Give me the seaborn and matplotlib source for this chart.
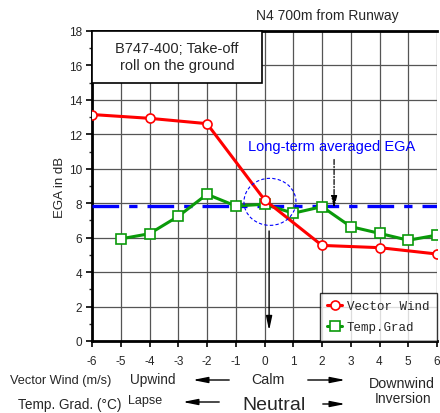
import numpy as np
import pandas as pd
import matplotlib
matplotlib.use("Agg")
import matplotlib.pyplot as plt
import seaborn as sns
from matplotlib.patches import Ellipse, Rectangle, FancyArrowPatch

# ---- data ----
wind_x = [-6, -4, -2, 0, 2, 4, 6]
wind_ega = [13.15, 12.93, 12.62, 8.2, 5.55, 5.42, 5.05]
temp_x = [-5, -4, -3, -2, -1, 0, 1, 2, 3, 4, 5, 6]
temp_ega = [5.93, 6.23, 7.24, 8.52, 7.84, 7.94, 7.42, 7.8, 6.64, 6.25, 5.85, 6.15]
avg_ega = 7.83
x_ticks = list(range(-6, 7))
y_ticks = list(range(0, 19, 2))

sns.set_theme(style="white")
plt.rcParams['font.family'] = ['Liberation Sans', 'DejaVu Sans']
plt.rcParams['axes.unicode_minus'] = False

W, H = 440, 414
fig = plt.figure(figsize=(W / 100, H / 100), dpi=100)
ax = fig.add_axes([92 / W, 1 - 342 / H, 345 / W, 310 / H])

df_w = pd.DataFrame({"x": wind_x, "y": wind_ega})
df_t = pd.DataFrame({"x": temp_x, "y": temp_ega})

sns.lineplot(data=df_w, x="x", y="y", ax=ax, color="#ff0000", lw=2.2,
             marker="o", markersize=6.5, markerfacecolor="white",
             markeredgecolor="#ff0000", markeredgewidth=1.2,
             label="Vector Wind", zorder=5)
sns.lineplot(data=df_t, x="x", y="y", ax=ax, color="#0a9a0a", lw=2.2,
             marker="s", markersize=6.5, markerfacecolor="white",
             markeredgecolor="#0a9a0a", markeredgewidth=1.2,
             label="Temp.Grad", zorder=4)

ax.axhline(avg_ega, color="#0000ff", lw=2.4, ls=(0, (8, 3, 2.5, 3)), zorder=3)

ax.set_xlim(-6, 6)
ax.set_ylim(0, 18)
ax.set_xticks(x_ticks)
ax.set_yticks(y_ticks)
ax.set_yticks(range(1, 18, 2), minor=True)
ax.set_xlabel("")
ax.set_ylabel("EGA in dB", fontsize=9.5, labelpad=2)
ax.tick_params(axis="both", which="major", direction="out", length=4, width=1.2,
               labelsize=8.5, color="black", pad=3, bottom=True, left=True)
ax.tick_params(axis="x", which="major", pad=6)
ax.tick_params(axis="y", which="minor", direction="out", length=2.5, width=1, left=True)

ax.grid(True, which="major", color="#555555", lw=0.9, zorder=0)
for side in ["left", "bottom", "top"]:
    ax.spines[side].set_linewidth(2.0)
    ax.spines[side].set_color("black")
ax.spines["right"].set_visible(False)

# text box
ax.add_patch(Rectangle((-6, 14.97), 5.91, 3.03, facecolor="white",
                       edgecolor="black", lw=1.2, zorder=6, clip_on=False))
ax.text(-3.05, 16.5, "B747-400; Take-off\nroll on the ground", ha="center",
        va="center", fontsize=10.5, zorder=7, linespacing=1.25)

# annotations
ax.text(2.35, 11.35, "Long-term averaged EGA", color="#0000ff", ha="center",
        va="center", fontsize=10.5, zorder=7)
ax.add_patch(Ellipse((0.19, 8.08), 1.81, 2.73, fill=False, edgecolor="#0000ff",
                     ls=(0, (3, 2)), lw=0.8, zorder=6))
ax.annotate("", xy=(0.16, 0.45), xytext=(0.16, 6.55),
            arrowprops=dict(arrowstyle="-|>,head_length=0.7,head_width=0.15",
                            color="black", lw=1.0), zorder=7)
ax.annotate("", xy=(2.42, 7.55), xytext=(2.42, 10.7),
            arrowprops=dict(arrowstyle="-|>,head_length=0.6,head_width=0.15",
                            color="black", lw=0.9, ls=(0, (4, 1.5, 1, 1.5))), zorder=7)

leg = ax.legend(loc="lower right", borderaxespad=0, frameon=True, fancybox=False,
                prop={"family": "Liberation Mono", "size": 9}, handlelength=1.2,
                handletextpad=0.4, borderpad=0.6, labelspacing=0.75)
leg.get_frame().set_edgecolor("black")
leg.get_frame().set_linewidth(1.0)
leg.set_zorder(10)

# title
fig.text(327 / W, 1 - 16 / H, "N4 700m from Runway", ha="center", va="center", fontsize=10)

# bottom labels
def ft(px, py, s, size, ha="left"):
    fig.text(px / W, 1 - py / H, s, ha=ha, va="center", fontsize=size)

def farrow(x0, x1, py):
    fig.add_artist(FancyArrowPatch(
        (x0 / W, 1 - py / H), (x1 / W, 1 - py / H), transform=fig.transFigure,
        arrowstyle="-|>,head_length=0.9,head_width=0.18", color="black", lw=1.0,
        mutation_scale=10))

ft(10, 381, "Vector Wind (m/s)", 9.2)
ft(130, 380, "Upwind", 9.8)
farrow(232, 190, 381)
ft(268, 380, "Calm", 10.3, ha="center")
farrow(305, 348, 381)
ft(369, 384, "Downwind", 10.3)
ft(18, 405, "Temp. Grad. (°C)", 9.8)
ft(128, 401, "Lapse", 9)
farrow(222, 180, 403)
ft(274, 406, "Neutral", 14, ha="center")
farrow(320, 348, 405)
ft(375, 399, "Inversion", 10)

fig.savefig("out.png", dpi=100)
